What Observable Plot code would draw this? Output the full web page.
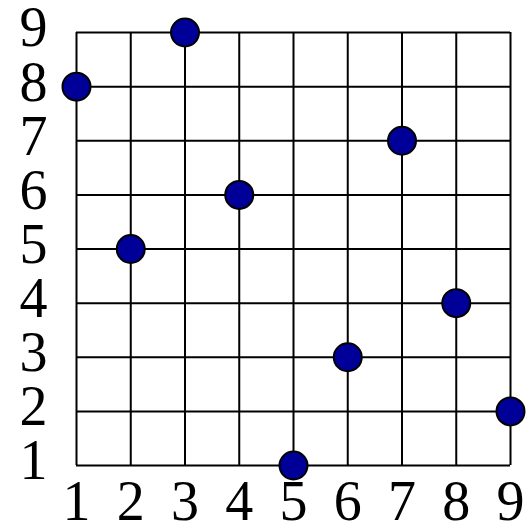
<!DOCTYPE html>
<html>
<head>
<meta charset="utf-8">
<script src="https://cdn.jsdelivr.net/npm/d3@7"></script>
<script src="https://cdn.jsdelivr.net/npm/@observablehq/plot@0.6"></script>
<style>
  html, body { margin: 0; padding: 0; background: #fff; }
</style>
</head>
<body>
<div id="chart"></div>
<script>
const xs = [1, 2, 3, 4, 5, 6, 7, 8, 9];
const ys = [8, 5, 9, 6, 1, 3, 7, 4, 2];
const ticks = [1, 2, 3, 4, 5, 6, 7, 8, 9];

const data = xs.map((x, i) => ({x, y: ys[i]}));
const fmt = d3.format("d");

const chart = Plot.plot({
  width: 531,
  height: 524,
  marginLeft: 76,
  marginRight: 21,
  marginTop: 32,
  marginBottom: 59,
  style: {fontFamily: "'Liberation Serif', 'Times New Roman', serif", background: "#fff", overflow: "visible"},
  x: {domain: [1, 9], ticks: ticks},
  y: {domain: [1, 9], ticks: ticks},
  marks: [
    Plot.ruleX(ticks, {stroke: "black", strokeWidth: 2, strokeOpacity: 1}),
    Plot.ruleY(ticks, {stroke: "black", strokeWidth: 2, strokeOpacity: 1}),
    Plot.axisX(ticks, {tickSize: 0, tickPadding: 15, fontSize: 56, label: null, color: "black", tickFormat: fmt}),
    Plot.axisY(ticks, {tickSize: 0, tickPadding: 29, fontSize: 56, label: null, dy: -4, color: "black", tickFormat: fmt}),
    Plot.dot(data, {x: "x", y: "y", r: 14, fill: "#000099", stroke: "black", strokeWidth: 2})
  ]
});
document.getElementById("chart").appendChild(chart);
</script>
</body>
</html>
